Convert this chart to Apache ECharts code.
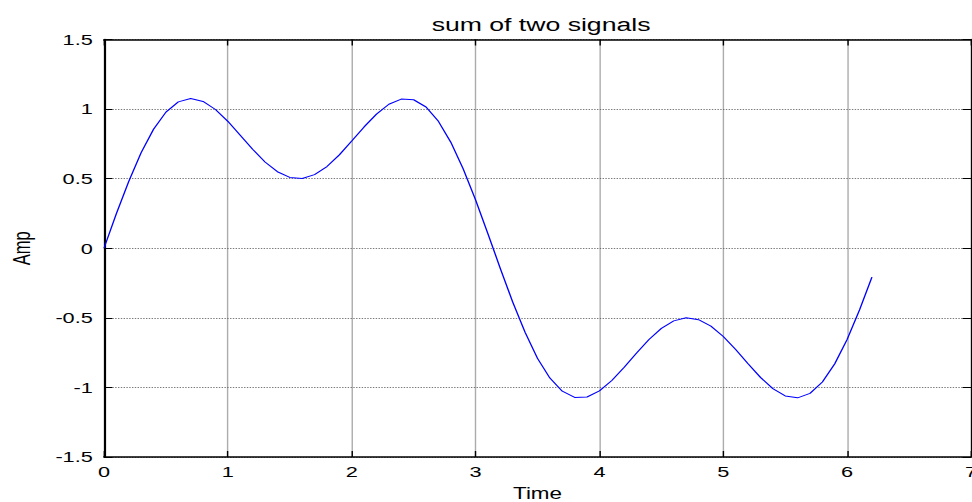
<!DOCTYPE html>
<html>
<head>
<meta charset="utf-8">
<title>sum of two signals</title>
<script src="https://cdn.jsdelivr.net/npm/echarts@6/dist/echarts.min.js"></script>
<style>
  html, body { margin: 0; padding: 0; width: 972px; height: 502px; overflow: hidden; background: #fff; }
  /* the figure is laid out narrow and widened horizontally, like a resized export */
  #chart { width: 694px; height: 502px; transform: scaleX(1.40058); transform-origin: 0 0; }
</style>
</head>
<body>
<div id="chart"></div>
<script>
// sample times (s)
const times = [
  0.0, 0.1, 0.2, 0.3, 0.4, 0.5, 0.6, 0.7, 0.8, 0.9,
  1.0, 1.1, 1.2, 1.3, 1.4, 1.5, 1.6, 1.7, 1.8, 1.9,
  2.0, 2.1, 2.2, 2.3, 2.4, 2.5, 2.6, 2.7, 2.8, 2.9,
  3.0, 3.1, 3.2, 3.3, 3.4, 3.5, 3.6, 3.7, 3.8, 3.9,
  4.0, 4.1, 4.2, 4.3, 4.4, 4.5, 4.6, 4.7, 4.8, 4.9,
  5.0, 5.1, 5.2, 5.3, 5.4, 5.5, 5.6, 5.7, 5.8, 5.9,
  6.0, 6.1, 6.2
];

// summed signal amplitude at each sample
const amp = [
  0.000, 0.248, 0.481, 0.687, 0.855, 0.978, 1.052, 1.076, 1.055, 0.997,
  0.912, 0.812, 0.711, 0.620, 0.550, 0.509, 0.501, 0.529, 0.587, 0.671,
  0.770, 0.872, 0.964, 1.035, 1.072, 1.067, 1.015, 0.912, 0.762, 0.571,
  0.347, 0.104, -0.146, -0.387, -0.605, -0.791, -0.933, -1.027, -1.072, -1.069,
  -1.025, -0.950, -0.855, -0.752, -0.656, -0.576, -0.522, -0.500, -0.513, -0.560,
  -0.634, -0.727, -0.830, -0.928, -1.009, -1.061, -1.075, -1.043, -0.961, -0.830,
  -0.655, -0.443, -0.207
];

// axis ranges and tick steps
const xRange = [0, 7];
const xStep = 1;
const yRange = [-1.5, 1.5];
const yStep = 0.5;

const FONT = '"Liberation Sans", Arial, Helvetica, sans-serif';
const points = times.map((t, i) => [t, amp[i]]);

const chart = echarts.init(document.getElementById('chart'), null, { renderer: 'svg' });

const boxLine = { show: true, onZero: false, lineStyle: { color: '#000', width: 1.5 } };
const tick = { show: true, inside: true, length: 6, lineStyle: { color: '#000', width: 1 } };
const hGrid = { show: true, lineStyle: { color: '#7a7a7a', type: [1, 1], width: 1 } };
const vGrid = { show: true, lineStyle: { color: '#5a5a5a', type: [1, 1], width: 1 } };

chart.setOption({
  animation: false,
  backgroundColor: '#fff',
  title: {
    text: 'sum of two signals',
    left: 381.3,
    top: 10,
    textAlign: 'center',
    textStyle: { fontFamily: FONT, fontSize: 19, fontWeight: 'normal', color: '#000' }
  },
  grid: { left: 74.25, right: 0.7, top: 39.5, bottom: 45, containLabel: false, outerBoundsMode: 'none' },
  xAxis: [
    {
      type: 'value', min: xRange[0], max: xRange[1], interval: xStep,
      position: 'bottom',
      name: 'Time', nameLocation: 'middle', nameGap: 28,
      nameTextStyle: { fontFamily: FONT, fontSize: 16, color: '#000' },
      axisLine: boxLine, axisTick: tick, splitLine: vGrid,
      axisLabel: { fontFamily: FONT, fontSize: 15.5, color: '#000', margin: 7, showMinLabel: true, showMaxLabel: true, hideOverlap: false }
    },
    {
      type: 'value', min: xRange[0], max: xRange[1], interval: xStep,
      position: 'top',
      axisLine: boxLine, axisTick: tick, splitLine: { show: false },
      axisLabel: { show: false }
    }
  ],
  yAxis: [
    {
      type: 'value', min: yRange[0], max: yRange[1], interval: yStep,
      position: 'left',
      name: 'Amp', nameLocation: 'middle', nameGap: 50,
      nameTextStyle: { fontFamily: FONT, fontSize: 16.5, color: '#000' },
      axisLine: boxLine, axisTick: tick, splitLine: hGrid,
      axisLabel: { fontFamily: FONT, fontSize: 15.5, color: '#000', margin: 8, showMinLabel: true, showMaxLabel: true }
    },
    {
      type: 'value', min: yRange[0], max: yRange[1], interval: yStep,
      position: 'right',
      axisLine: boxLine, axisTick: tick, splitLine: { show: false },
      axisLabel: { show: false }
    }
  ],
  series: [
    {
      type: 'line',
      xAxisIndex: 0,
      yAxisIndex: 0,
      data: points,
      showSymbol: false,
      smooth: false,
      lineStyle: { color: '#0000ff', width: 1 },
      itemStyle: { color: '#0000ff' },
      z: 5
    }
  ]
});
</script>
</body>
</html>
